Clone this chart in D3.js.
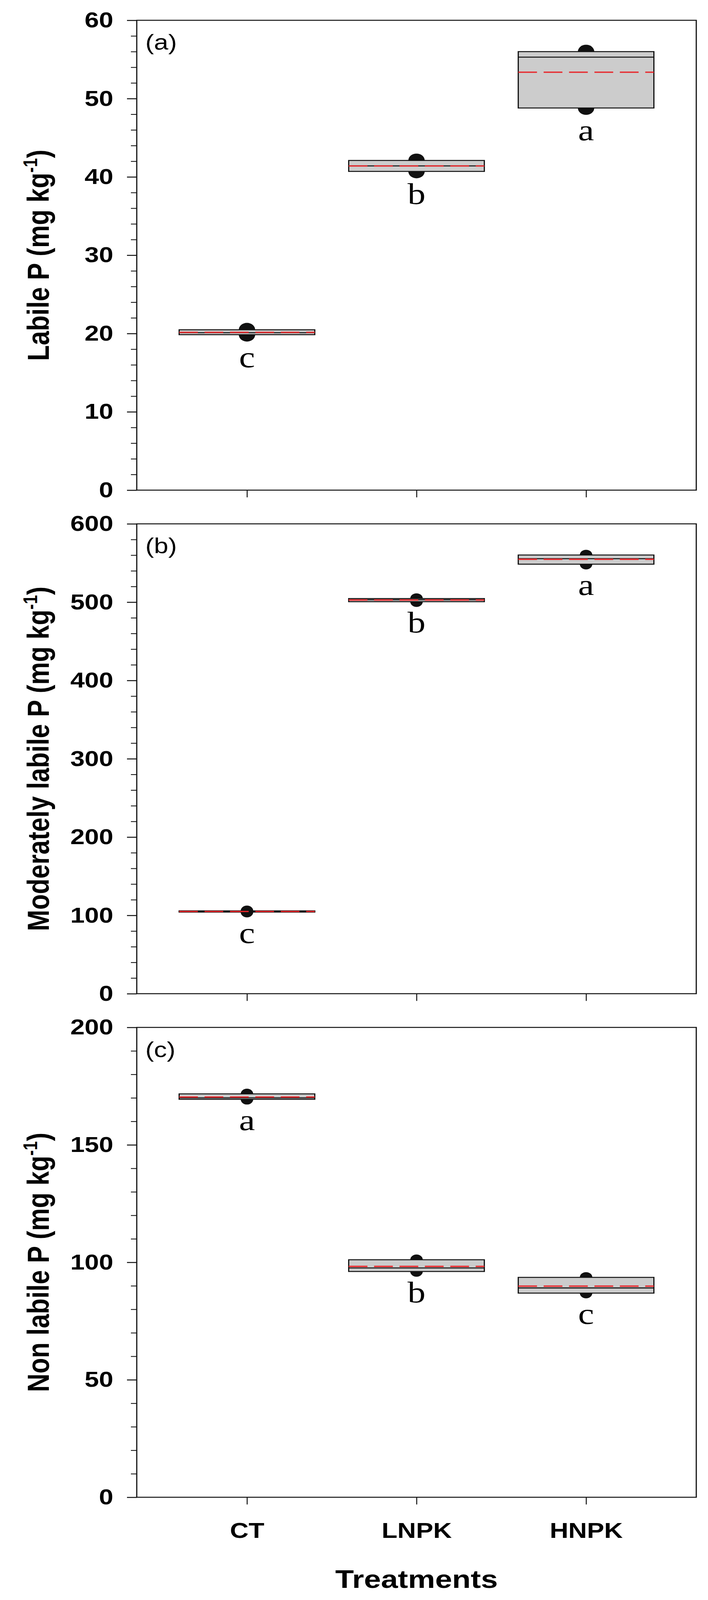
<!DOCTYPE html>
<html>
<head>
<meta charset="utf-8">
<script src="https://cdnjs.cloudflare.com/ajax/libs/d3/7.8.5/d3.min.js"></script>
<style>
    html, body { margin: 0; padding: 0; background: #ffffff; overflow: hidden; }
    svg { display: block; }
</style>
</head>
<body>
<div id="chart"></div>
<script>
// Treatments on the x axis
var treatments = ['CT', 'LNPK', 'HNPK'];

// Three replicates per treatment (mg kg-1)
var labileP = [
    [19.85, 20.1, 20.48],
    [40.7, 41.4, 42.1],
    [48.8, 55.3, 56.0]
];
var moderatelyLabileP = [
    [104.2, 104.9, 105.8],
    [500.6, 503.0, 504.6],
    [548.5, 555.5, 560.2]
];
var nonLabileP = [
    [169.4, 170.0, 171.7],
    [96.1, 97.6, 101.1],
    [86.9, 89.1, 93.6]
];

// Significance letters under each box
var labileLetters = ['c', 'b', 'a'];
var moderatelyLetters = ['c', 'b', 'a'];
var nonLabileLetters = ['a', 'b', 'c'];

// Major tick values of each y axis
var labileTicks = [0, 10, 20, 30, 40, 50, 60];
var moderatelyTicks = [0, 100, 200, 300, 400, 500, 600];
var nonLabileTicks = [0, 50, 100, 150, 200];

var panels = [
    { tag: '(a)', title: 'Labile P (mg kg', values: labileP, letters: labileLetters,
      ticks: labileTicks, minorStep: 2, top: 62, dotR: 21 },
    { tag: '(b)', title: 'Moderately labile P (mg kg', values: moderatelyLabileP, letters: moderatelyLetters,
      ticks: moderatelyTicks, minorStep: 20, top: 1601, dotR: 16 },
    { tag: '(c)', title: 'Non labile P (mg kg', values: nonLabileP, letters: nonLabileLetters,
      ticks: nonLabileTicks, minorStep: 10, top: 3140, dotR: 16 }
];

// layout (drawn in a 1812x4890 space, stretched onto whatever the window gives)
var W = 1812, H = 4890;
var left = 350, right = 1782, panelH = 1436;
var sans = "'Liberation Sans', Arial, Helvetica, sans-serif";
var serif = "'Liberation Serif', 'Times New Roman', serif";

var svg = d3.select('#chart')
    .append('svg')
    .attr('viewBox', '0 0 ' + W + ' ' + H)
    .attr('preserveAspectRatio', 'none')
    .attr('width', window.innerWidth || W)
    .attr('height', window.innerHeight || H)
    .style('background', '#ffffff');

var x = d3.scalePoint()
    .domain(treatments)
    .range([left, right])
    .padding(0.65);
var boxW = x.step() * 0.8;

panels.forEach(function(p, pi) {
    var top = p.top, bottom = top + panelH;
    var yMax = p.ticks[p.ticks.length - 1];
    var y = d3.scaleLinear().domain([0, yMax]).range([bottom, top]);
    var g = svg.append('g');

    // minor ticks
    var minor = d3.range(0, yMax + 0.001, p.minorStep).filter(function(v) {
        return p.ticks.indexOf(v) < 0;
    });
    g.append('g')
        .attr('transform', 'translate(' + left + ',0)')
        .call(d3.axisLeft(y).tickValues(minor).tickSize(15).tickFormat(''))
        .call(function(a) {
            a.select('.domain').remove();
            a.selectAll('line').attr('stroke', '#111').attr('stroke-width', 2.5);
        });

    // major ticks + labels
    g.append('g')
        .attr('transform', 'translate(' + left + ',0)')
        .call(d3.axisLeft(y).tickValues(p.ticks).tickSize(25).tickPadding(35))
        .call(function(a) {
            a.select('.domain').remove();
            a.selectAll('line').attr('stroke', '#111').attr('stroke-width', 3);
            a.selectAll('text')
                .attr('fill', '#000')
                .style('font-family', sans)
                .style('font-size', '66px')
                .style('font-weight', 'bold');
        });

    // x ticks (labels only on the last panel)
    var last = pi == panels.length - 1;
    g.append('g')
        .attr('transform', 'translate(0,' + bottom + ')')
        .call(d3.axisBottom(x).tickSize(22).tickPadding(55).tickFormat(last ? null : ''))
        .call(function(a) {
            a.select('.domain').remove();
            a.selectAll('line').attr('stroke', '#111').attr('stroke-width', 2.5);
            a.selectAll('text')
                .attr('fill', '#000')
                .style('font-family', sans)
                .style('font-size', '66px')
                .style('font-weight', 'bold');
        });

    // frame
    g.append('rect')
        .attr('x', left)
        .attr('y', top)
        .attr('width', right - left)
        .attr('height', panelH)
        .attr('fill', 'none')
        .attr('stroke', '#111')
        .attr('stroke-width', 3);

    // panel tag
    g.append('text')
        .attr('x', left + 22)
        .attr('y', top + 90)
        .style('font-family', sans)
        .style('font-size', '66px')
        .text(p.tag);

    // y title with superscript
    var title = g.append('text')
        .attr('transform', 'translate(125,' + (top + panelH / 2) + ') rotate(-90)')
        .attr('text-anchor', 'middle')
        .style('font-family', sans)
        .style('font-size', '78px')
        .style('font-weight', 'bold');
    title.append('tspan').text(p.title);
    title.append('tspan').attr('dy', -30).style('font-size', '50px').text('-1');
    title.append('tspan').attr('dy', 30).text(')');

    // boxes
    var stats = p.values.map(function(v, i) {
        return {
            t: treatments[i],
            lo: d3.min(v),
            hi: d3.max(v),
            med: d3.median(v),
            mean: d3.mean(v),
            letter: p.letters[i]
        };
    });

    var boxes = g.selectAll('.box')
        .data(stats)
        .enter()
        .append('g');

    // extreme points sit behind the box
    boxes.selectAll('circle')
        .data(function(d) { return [{ t: d.t, v: d.lo }, { t: d.t, v: d.hi }]; })
        .enter()
        .append('circle')
        .attr('cx', function(d) { return x(d.t); })
        .attr('cy', function(d) { return y(d.v); })
        .attr('r', p.dotR)
        .attr('fill', '#111');

    boxes.append('rect')
        .attr('x', function(d) { return x(d.t) - boxW / 2; })
        .attr('y', function(d) { return y(d.hi); })
        .attr('width', boxW)
        .attr('height', function(d) { return y(d.lo) - y(d.hi); })
        .attr('fill', '#cccccc')
        .attr('stroke', '#111')
        .attr('stroke-width', 3);

    boxes.append('line')
        .attr('x1', function(d) { return x(d.t) - boxW / 2; })
        .attr('x2', function(d) { return x(d.t) + boxW / 2; })
        .attr('y1', function(d) { return y(d.med); })
        .attr('y2', function(d) { return y(d.med); })
        .attr('stroke', '#111')
        .attr('stroke-width', 3);

    boxes.append('line')
        .attr('x1', function(d) { return x(d.t) - boxW / 2; })
        .attr('x2', function(d) { return x(d.t) + boxW / 2; })
        .attr('y1', function(d) { return y(d.mean); })
        .attr('y2', function(d) { return y(d.mean); })
        .attr('stroke', '#e8262a')
        .attr('stroke-width', 4)
        .attr('stroke-dasharray', '48,17');

    boxes.append('text')
        .attr('x', function(d) { return x(d.t); })
        .attr('y', function(d) { return y(d.lo) + p.dotR + 78; })
        .attr('text-anchor', 'middle')
        .style('font-family', serif)
        .style('font-size', '92px')
        .text(function(d) { return d.letter; });
});

// x axis title
svg.append('text')
    .attr('x', (left + right) / 2)
    .attr('y', 4853)
    .attr('text-anchor', 'middle')
    .style('font-family', sans)
    .style('font-size', '78px')
    .style('font-weight', 'bold')
    .text('Treatments');
</script>
</body>
</html>
